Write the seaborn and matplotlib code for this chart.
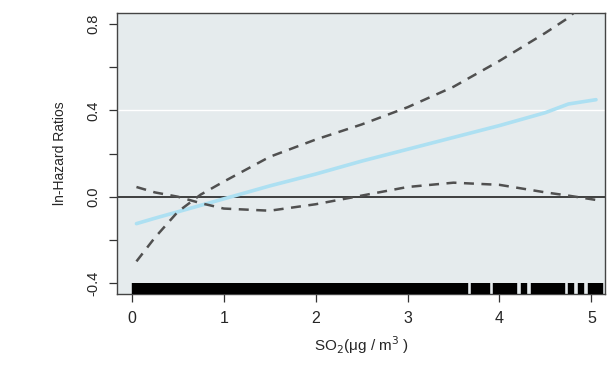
import matplotlib
matplotlib.use("Agg")
import matplotlib.pyplot as plt
import seaborn as sns

# --- DATA ---
so2 = [0.05, 0.25, 0.5, 0.75, 1.0, 1.5, 2.0, 2.5, 3.0, 3.5, 4.0, 4.5, 4.75, 5.05]
fit = [-0.125, -0.10, -0.07, -0.04, -0.01, 0.05, 0.105, 0.165, 0.22, 0.275, 0.33, 0.39, 0.43, 0.45]
upper = [-0.30, -0.19, -0.07, 0.01, 0.07, 0.185, 0.265, 0.335, 0.415, 0.51, 0.63, 0.76, 0.83, 0.95]
lower = [0.045, 0.02, 0.0, -0.03, -0.055, -0.065, -0.035, 0.005, 0.045, 0.065, 0.055, 0.02, 0.005, -0.015]

# observed exposures (rug)
rug_x = [0.03, 0.09, 0.15, 0.21, 0.27, 0.33, 0.39, 0.45, 0.51, 0.57, 0.63, 0.69, 0.75,
         0.81, 0.87, 0.93, 0.99, 1.05, 1.11, 1.17, 1.23, 1.29, 1.35, 1.41, 1.47, 1.53,
         1.59, 1.65, 1.71, 1.77, 1.83, 1.89, 1.95, 2.01, 2.07, 2.13, 2.19, 2.25, 2.31,
         2.37, 2.43, 2.49, 2.55, 2.61, 2.67, 2.73, 2.79, 2.85, 2.91, 2.97, 3.03, 3.09,
         3.15, 3.21, 3.27, 3.33, 3.39, 3.45, 3.51, 3.57, 3.62,
         3.72, 3.77, 3.82, 3.86, 3.96, 4.01, 4.06, 4.11, 4.16, 4.27, 4.38, 4.43, 4.48,
         4.53, 4.58, 4.63, 4.68, 4.78, 4.89, 5.00, 5.05, 5.09]

y_ticks = [-0.4, -0.2, 0.0, 0.2, 0.4, 0.6, 0.8]
y_labels = ["-0.4", "", "0.0", "", "0.4", "", "0.8"]
x_ticks = [0, 1, 2, 3, 4, 5]

sns.set_style("white")
plt.rcParams['font.family'] = ['Liberation Sans', 'DejaVu Sans']

fig = plt.figure(figsize=(6.07, 3.83), dpi=100)
ax = fig.add_axes([0.193, 0.232, 0.804, 0.734])
ax.set_facecolor("#e5ebed")

ax.axhline(0.4, color="white", lw=1.0, zorder=1)
ax.axhline(0.0, color="#222222", lw=1.2, zorder=2)

sns.lineplot(x=so2, y=fit, color="#ade0f2", linewidth=2.6, ax=ax, zorder=3)
sns.lineplot(x=so2, y=upper, color="#505050", linewidth=1.8, ax=ax, zorder=4,
             linestyle=(0, (4, 3)))
sns.lineplot(x=so2, y=lower, color="#505050", linewidth=1.8, ax=ax, zorder=4,
             linestyle=(0, (4, 3)))

sns.rugplot(x=rug_x, height=0.04, color="black", linewidth=4.6, ax=ax, zorder=5)

ax.set_xlim(-0.16, 5.15)
ax.set_ylim(-0.452, 0.852)
ax.set_xticks(x_ticks)
ax.set_xticklabels([str(t) for t in x_ticks], fontsize=11.5)
ax.set_yticks(y_ticks)
ax.set_yticklabels(y_labels, fontsize=10.5, rotation=90, va="center")
ax.tick_params(axis="both", direction="out", length=6, width=0.9, color="#333333",
               bottom=True, left=True, pad=6)

for s in ax.spines.values():
    s.set_color("#444444")
    s.set_linewidth(1.0)

ax.set_xlabel("SO$_2$(μg / m$^3$ )", fontsize=11, labelpad=6)
ax.set_ylabel("ln-Hazard Ratios", fontsize=10, labelpad=14)

plt.savefig("out.png", dpi=100)
